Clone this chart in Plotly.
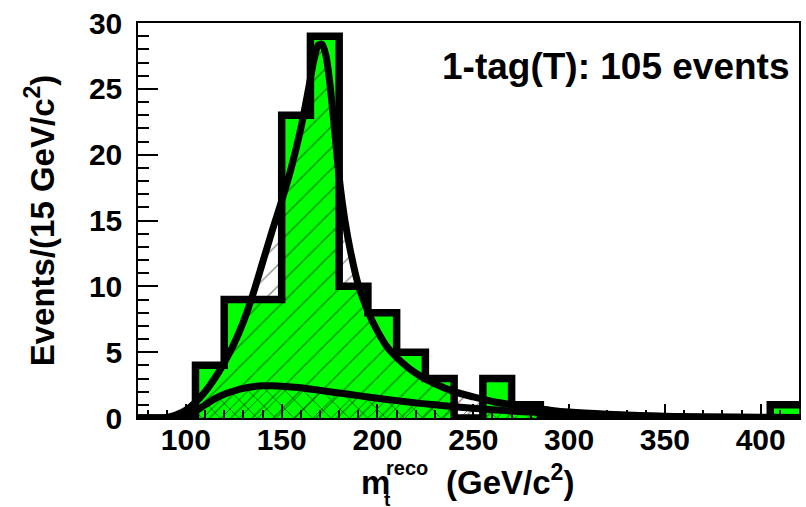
import plotly.graph_objects as go

# ---------------- data ----------------
bin_edges = [75, 90, 105, 120, 135, 150, 165, 180, 195, 210, 225, 240, 255, 270,
             285, 300, 315, 330, 345, 360, 375, 390, 405]
bin_width = 15
counts = [0, 0, 4, 9, 9, 23, 29, 10, 8, 5, 3, 0, 3, 1,
          0, 0, 0, 0, 0, 0, 0, 0, 1]

# total fit (signal + background)
fit_m = [75, 85, 90, 95, 100, 105, 110, 115, 120, 125, 130, 135, 140, 145, 150, 155,
         160, 164, 167, 169, 171, 173, 175, 177, 180, 183, 186, 190, 195, 200, 205,
         210, 220, 230, 240, 250, 260, 270, 280, 290, 300, 320, 340, 360, 380, 400, 420]
fit_v = [0, 0, 0.05, 0.25, 0.6, 1.2, 2.0, 3.0, 4.2, 5.6, 7.3, 9.4, 11.8, 14.2, 16.5, 19.0,
         22.0, 25.0, 27.3, 28.3, 28.4, 27.6, 25.6, 22.8, 18.3, 15.0, 12.6, 10.1, 8.1, 6.6, 5.4,
         4.6, 3.4, 2.6, 2.0, 1.6, 1.25, 1.0, 0.8, 0.6, 0.45, 0.28, 0.17, 0.1, 0.06, 0.04, 0.02]

# background fit
bg_m = [75, 95, 100, 105, 110, 115, 120, 125, 130, 135, 140, 145, 150, 160, 170, 180,
        190, 200, 210, 220, 230, 240, 250, 260, 270, 280, 300, 320, 340, 360, 380, 400, 420]
bg_v = [0, 0, 0.1, 0.5, 1.0, 1.45, 1.8, 2.05, 2.25, 2.38, 2.45, 2.45, 2.42, 2.3, 2.1, 1.9,
        1.7, 1.5, 1.32, 1.15, 1.0, 0.86, 0.74, 0.63, 0.53, 0.45, 0.32, 0.22, 0.15, 0.1, 0.07, 0.05, 0.03]

x_ticks = [100, 150, 200, 250, 300, 350, 400]
y_ticks = [0, 5, 10, 15, 20, 25, 30]
label_text = "1-tag(T): 105 events"

# ---------------- figure ----------------
FONT = "Liberation Sans, Arial, Helvetica, sans-serif"
GREEN = "rgb(0,255,0)"

centers = [e + bin_width / 2 for e in bin_edges]
step_x = bin_edges + [bin_edges[-1] + bin_width]
step_y = counts + [counts[-1]]

fig = go.Figure()

# green data histogram fill
fig.add_trace(go.Bar(x=centers, y=counts, width=bin_width,
                     marker=dict(color=GREEN, line=dict(width=0)),
                     showlegend=False, hoverinfo="skip"))

# hatched area under total fit
fig.add_trace(go.Scatter(x=fit_m, y=fit_v, mode="none", fill="tozeroy",
                         line_shape="spline",
                         fillcolor="rgba(0,0,0,0)",
                         fillpattern=dict(shape="/", fgcolor="black", fgopacity=0.42,
                                          bgcolor="rgba(0,0,0,0)", size=15, solidity=0.1),
                         showlegend=False, hoverinfo="skip"))

# cross-hatched area under background fit
fig.add_trace(go.Scatter(x=bg_m, y=bg_v, mode="none", fill="tozeroy",
                         line_shape="spline",
                         fillcolor="rgba(0,0,0,0)",
                         fillpattern=dict(shape="x", fgcolor="black", fgopacity=0.65,
                                          bgcolor="rgba(0,0,0,0)", size=13, solidity=0.12),
                         showlegend=False, hoverinfo="skip"))

# data histogram outline
fig.add_trace(go.Scatter(x=step_x, y=step_y, mode="lines", line_shape="hv",
                         line=dict(color="black", width=7.5), cliponaxis=False,
                         showlegend=False, hoverinfo="skip"))

# fit curves
fig.add_trace(go.Scatter(x=bg_m, y=bg_v, mode="lines", line_shape="spline",
                         line=dict(color="black", width=7, smoothing=0.8),
                         showlegend=False, hoverinfo="skip"))
fig.add_trace(go.Scatter(x=fit_m, y=fit_v, mode="lines", line_shape="spline",
                         line=dict(color="black", width=7, smoothing=0.8),
                         showlegend=False, hoverinfo="skip"))

W, H = 806, 507
L, R, T, B = 138, 5, 23, 89
pw, ph = W - L - R, H - T - B


def px(xp):
    return (xp - L) / pw


def py(yp):
    return (H - B - yp) / ph


bold = dict(family=FONT, color="black", weight="bold")

fig.update_layout(
    width=W, height=H,
    margin=dict(l=L, r=R, t=T, b=B, pad=0),
    paper_bgcolor="white", plot_bgcolor="white",
    bargap=0, barmode="overlay",
    showlegend=False,
    xaxis=dict(range=[75, 420], tickvals=x_ticks, ticktext=[str(v) for v in x_ticks],
               ticks="inside", ticklen=14, tickwidth=2, tickcolor="black",
               minor=dict(dtick=10, tick0=0, ticks="inside", ticklen=8, tickwidth=2,
                          tickcolor="black"),
               showgrid=False, zeroline=False,
               showline=True, mirror=True, linecolor="black", linewidth=1.5,
               tickfont=dict(size=30, **bold), ticklabelstandoff=-6),
    yaxis=dict(range=[0, 30], tickvals=y_ticks, ticktext=[str(v) for v in y_ticks],
               ticks="inside", ticklen=20, tickwidth=2, tickcolor="black",
               minor=dict(dtick=1, tick0=0, ticks="inside", ticklen=11, tickwidth=2,
                          tickcolor="black"),
               showgrid=False, zeroline=False,
               showline=True, mirror=True, linecolor="black", linewidth=1.5,
               tickfont=dict(size=30, **bold), ticklabelstandoff=8),
)

annotations = [
    dict(text=label_text, x=px(794), y=py(66), xanchor="right", yanchor="middle",
         font=dict(size=37, **bold)),
    # y-axis title
    dict(text="Events/(15 GeV/c<sup>2</sup>)", textangle=-90, x=px(40), y=py(220),
         xanchor="center", yanchor="middle", font=dict(size=33, **bold)),
    # x-axis title pieces
    dict(text="m", x=px(360), y=py(503), xanchor="left", yanchor="bottom",
         font=dict(size=33, **bold)),
    dict(text="t", x=px(383), y=py(512), xanchor="left", yanchor="bottom",
         font=dict(size=19, **bold)),
    dict(text="reco", x=px(385), y=py(481), xanchor="left", yanchor="bottom",
         font=dict(size=20, **bold)),
    dict(text="(GeV/c<sup>2</sup>)", x=px(445), y=py(503), xanchor="left", yanchor="bottom",
         font=dict(size=33, **bold)),
]
for a in annotations:
    a.update(xref="paper", yref="paper", showarrow=False)
fig.update_layout(annotations=annotations)

fig.write_html("out.html")
